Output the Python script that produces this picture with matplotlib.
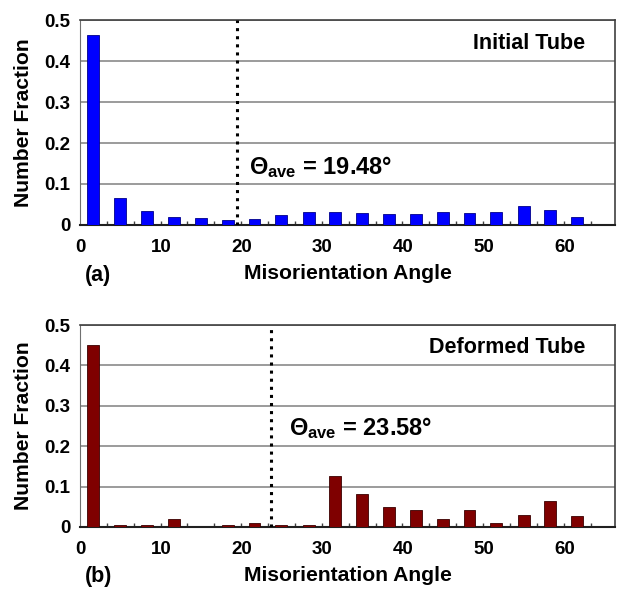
import numpy as np
import matplotlib.pyplot as plt
from matplotlib.ticker import MultipleLocator

plt.rcParams['font.family'] = ['Liberation Sans', 'DejaVu Sans']
plt.rcParams['mathtext.fontset'] = 'custom'
plt.rcParams['mathtext.rm'] = 'Liberation Sans'
plt.rcParams['mathtext.bf'] = 'Liberation Sans:bold'

# bin centres (degrees) shared by both histograms
angle = [1.65, 4.97, 8.3, 11.6, 14.95, 18.3, 21.6, 24.9, 28.3, 31.6,
         34.9, 38.2, 41.6, 44.9, 48.2, 51.5, 54.9, 58.2, 61.5]
initial = [0.463, 0.067, 0.035, 0.020, 0.016, 0.012, 0.015, 0.024, 0.031, 0.031,
           0.028, 0.027, 0.027, 0.031, 0.028, 0.031, 0.046, 0.036, 0.020]
deformed = [0.450, 0.005, 0.005, 0.020, 0.0, 0.005, 0.010, 0.005, 0.005, 0.125,
            0.082, 0.050, 0.043, 0.020, 0.043, 0.010, 0.030, 0.064, 0.028]
titles = ['Initial Tube', 'Deformed Tube']
theta_ave = [19.48, 23.58]
panel = ['(a)', '(b)']
colors = ['#0000ff', '#7f0000']
edges = ['#00008a', '#3a0000']

fig = plt.figure(figsize=(6.2, 5.92), dpi=100)
ax_top = fig.add_axes([0.129, 0.620, 0.863, 0.346])
ax_bot = fig.add_axes([0.129, 0.110, 0.863, 0.341])


def histPanel(ax, vals, title, ave, lab, col, ec, text_xy):
    ax.bar(angle, vals, width=1.46, color=col, edgecolor=ec, linewidth=0.6, zorder=3)
    ax.set_xlim(0, 66.2)
    ax.set_ylim(0, 0.5)
    ax.set_yticks([0, 0.1, 0.2, 0.3, 0.4, 0.5])
    ax.set_yticklabels(['0', '0.1', '0.2', '0.3', '0.4', '0.5'])
    ax.set_xticks([0, 10, 20, 30, 40, 50, 60])
    ax.xaxis.set_minor_locator(MultipleLocator(3.325))
    ax.tick_params(axis='both', which='major', length=0, labelsize=13.5)
    ax.tick_params(axis='x', which='major', pad=10)
    ax.tick_params(axis='y', which='major', pad=7)
    for t in ax.get_xticklabels() + ax.get_yticklabels():
        t.set_fontweight('bold')
    ax.tick_params(axis='x', which='minor', direction='in', length=3, width=1, color='#404040')
    ax.grid(axis='y', color='#808080', linewidth=1.1, zorder=0)
    for s in ['top', 'right']:
        ax.spines[s].set_color('#404040')
        ax.spines[s].set_linewidth(1.2)
    ax.spines['left'].set_color('#707070')
    ax.spines['bottom'].set_color('#202020')
    ax.spines['bottom'].set_linewidth(1.5)
    ax.axvline(ave, color='black', linestyle=':', linewidth=2.2, zorder=4)
    ax.set_xlabel('Misorientation Angle', fontsize=15.2, fontweight='bold', labelpad=6)
    ax.set_ylabel('Number Fraction', fontsize=15.2, fontweight='bold', labelpad=8)
    ax.text(62.5, 0.444, title, fontsize=15.5, fontweight='bold', ha='right', va='center')
    ax.text(text_xy[0], text_xy[1], r'$\mathbf{\Theta_{ave}}$' + ' = %.2f°' % ave,
            fontsize=17, fontweight='bold', ha='left', va='center')
    ax.text(0.01, -0.245, lab, transform=ax.transAxes, fontsize=15.5, fontweight='bold',
            ha='left', va='center')


histPanel(ax_top, initial, titles[0], theta_ave[0], panel[0], colors[0], edges[0], (20.9, 0.141))
histPanel(ax_bot, deformed, titles[1], theta_ave[1], panel[1], colors[1], edges[1], (25.8, 0.244))

plt.savefig('out.png', dpi=100)
